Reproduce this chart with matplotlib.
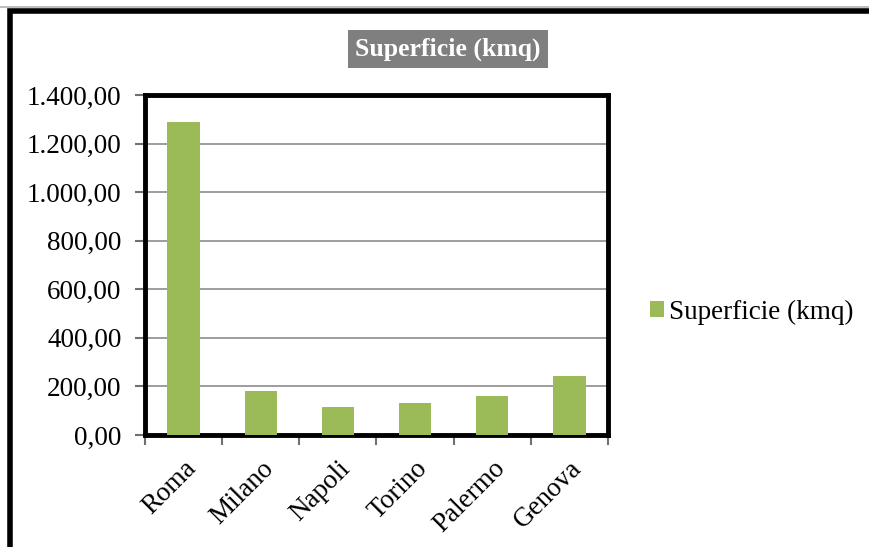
import numpy as np
import matplotlib.pyplot as plt
import matplotlib.transforms as mtransforms
from matplotlib.lines import Line2D

cities = ["Roma", "Milano", "Napoli", "Torino", "Palermo", "Genova"]
area_kmq = [1287.36, 181.67, 117.27, 130.17, 158.9, 243.6]
yticks = [0, 200, 400, 600, 800, 1000, 1200, 1400]
ytick_labels = ["0,00", "200,00", "400,00", "600,00", "800,00",
                "1.000,00", "1.200,00", "1.400,00"]

green = "#9BBB59"
serif = "Liberation Serif"
fs = 19.5

fig = plt.figure(figsize=(8.7, 5.47), dpi=100)
ax = fig.add_axes([145/870, 1 - 435/547, 463/870, 340/547])

x = np.arange(len(cities))
ax.bar(x, area_kmq, width=0.42, color=green, zorder=3, label="Superficie (kmq)")
ax.set_xlim(-0.5, len(cities) - 0.5)
ax.set_ylim(0, 1400)
ax.set_yticks(yticks)
ax.set_yticklabels(ytick_labels, fontfamily=serif, fontsize=fs)
ax.yaxis.grid(True, color="#8c8c8c", linewidth=1.2, zorder=0)

# category labels, ticks at the boundaries
ax.set_xticks(x)
ax.set_xticklabels(cities, rotation=45, ha="right", rotation_mode="anchor",
                   fontfamily=serif, fontsize=fs)
shift = mtransforms.ScaledTranslation(-6/100, 0, fig.dpi_scale_trans)
for lbl in ax.get_xticklabels():
    lbl.set_transform(lbl.get_transform() + shift)
ax.set_xticks(np.arange(len(cities) + 1) - 0.5, minor=True)
ax.tick_params(axis="x", which="major", length=0, pad=15)
ax.tick_params(axis="x", which="minor", length=7, width=1.5, color="#707070", direction="out")
ax.tick_params(axis="y", length=7, width=1.5, color="#707070", direction="out", pad=10)

for s in ax.spines.values():
    s.set_linewidth(3.5)
    s.set_color("black")

leg = fig.legend(loc="center left", bbox_to_anchor=(650/870, 1 - 312/547),
                 frameon=False, prop={"family": serif, "size": fs},
                 borderpad=0, borderaxespad=0,
                 handlelength=0.52, handleheight=0.52, handletextpad=0.18)

fig.text(448/870, 1 - 49/547, "Superficie (kmq)", ha="center", va="center",
         fontfamily=serif, fontsize=18.5, fontweight="bold", color="white",
         bbox=dict(boxstyle="square,pad=0.3", facecolor="#7f7f7f", edgecolor="none"))

# outer chart frame (right and bottom sides fall outside the picture)
fig.add_artist(Line2D([0, 1], [1 - 7/547, 1 - 7/547], transform=fig.transFigure,
                      color="#b0b0b0", linewidth=1.2))
fig.add_artist(Line2D([10.5/870, 10.5/870, 1], [0, 1 - 10.5/547, 1 - 10.5/547],
                      transform=fig.transFigure, color="black", linewidth=4,
                      solid_joinstyle="miter"))

fig.savefig("out.png", dpi=100)
